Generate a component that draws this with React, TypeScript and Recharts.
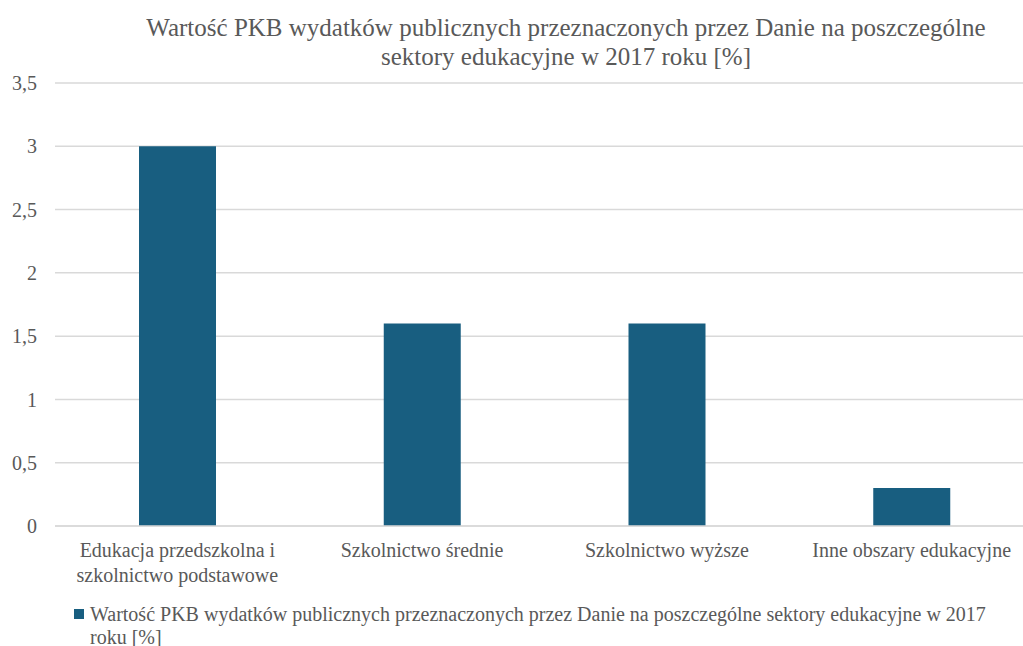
import React from 'react';
import { BarChart, Bar, XAxis, YAxis, CartesianGrid, Text } from 'recharts';

const categories = [
  'Edukacja przedszkolna i szkolnictwo podstawowe',
  'Szkolnictwo średnie',
  'Szkolnictwo wyższe',
  'Inne obszary edukacyjne',
];
const values = [3.0, 1.6, 1.6, 0.3];
const yTicks = [0, 0.5, 1, 1.5, 2, 2.5, 3, 3.5];

const seriesName =
  'Wartość PKB wydatków publicznych przeznaczonych przez Danie na poszczególne sektory edukacyjne w 2017 roku [%]';
const titleLines = [
  'Wartość PKB wydatków publicznych przeznaczonych przez Danie na poszczególne',
  'sektory edukacyjne w 2017 roku [%]',
];

const data = categories.map((name, i) => ({ name, value: values[i] }));

const FONT = '"Liberation Serif", "Times New Roman", serif';
const TEXT = '#595959';
const BAR = '#185e80';
const GRID = '#d9d9d9';

const CategoryTick = ({ x, y, payload }: any) => (
  <Text
    x={x}
    y={y}
    width={218}
    textAnchor="middle"
    verticalAnchor="start"
    lineHeight={25}
    fontSize={20}
    fontFamily={FONT}
    fill={TEXT}
  >
    {payload.value}
  </Text>
);

export default function App() {
  return (
    <div
      style={{
        position: 'absolute',
        left: 0,
        top: 0,
        width: 1023,
        height: 646,
        overflow: 'hidden',
        background: '#fff',
        fontFamily: FONT,
      }}
    >
      <div
        style={{
          position: 'absolute',
          left: 66,
          width: 1000,
          top: 13,
          textAlign: 'center',
          fontSize: 25,
          lineHeight: '29px',
          color: TEXT,
          whiteSpace: 'nowrap',
        }}
      >
        {titleLines.map((l, i) => (
          <div key={`title-${i}`}>{l}</div>
        ))}
      </div>

      <BarChart
        width={1034}
        height={646}
        data={data}
        margin={{ top: 83, right: 0, left: 0, bottom: 0 }}
        barSize={77}
      >
        <CartesianGrid stroke={GRID} strokeWidth={1.5} vertical={false} />
        <XAxis
          dataKey="name"
          height={120}
          axisLine={{ stroke: GRID, strokeWidth: 1.5 }}
          tickLine={false}
          tickSize={0}
          tickMargin={17}
          interval={0}
          tick={<CategoryTick />}
        />
        <YAxis
          width={55}
          domain={[0, 3.5]}
          ticks={yTicks}
          axisLine={false}
          tickLine={false}
          tickSize={0}
          tickMargin={18}
          tick={{ fontSize: 20, fontFamily: FONT, fill: TEXT }}
          tickFormatter={(v: number) => String(v).replace('.', ',')}
        />
        <Bar dataKey="value" name={seriesName} fill={BAR} isAnimationActive={false} />
      </BarChart>

      <div
        style={{
          position: 'absolute',
          left: 74,
          top: 603,
          width: 935,
          display: 'flex',
          alignItems: 'flex-start',
          fontSize: 20,
          lineHeight: '23px',
          color: TEXT,
        }}
      >
        <span style={{ flex: 'none', width: 10, height: 10, marginTop: 6, background: BAR, marginRight: 6 }} />
        <span>{seriesName}</span>
      </div>
    </div>
  );
}
